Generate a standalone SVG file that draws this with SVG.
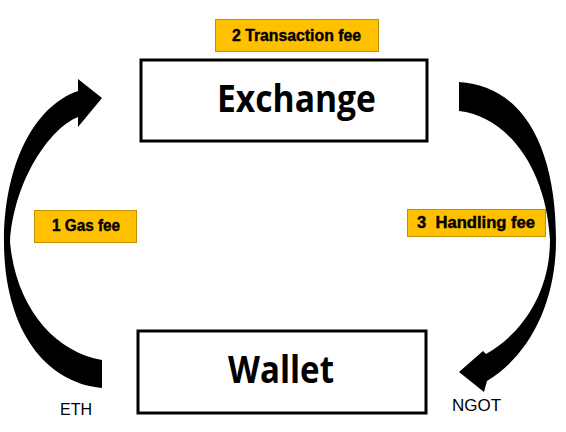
<svg xmlns="http://www.w3.org/2000/svg" width="566" height="432" viewBox="0 0 566 432">
<style>
.box{fill:#fff;stroke:#000;stroke-width:3}
.node{font-family:"Open Sans","Liberation Sans",sans-serif;font-weight:bold;font-size:37px;fill:#000}
.tag{fill:#FFC000;stroke:#BF9000;stroke-width:1}
.tagt{font-family:"Liberation Sans",Arial,sans-serif;font-weight:bold;font-size:16px;fill:#000;stroke:#000;stroke-width:0.4;white-space:pre}
.lbl{font-family:"Liberation Sans",Arial,sans-serif;font-size:16px;fill:#000}
.arr{fill:#000}
</style>
<rect width="566" height="432" fill="#fff"/>
<g id="connectors">
<path class="arr" d="M102,388 C40,382 4,322 4,242 C4,165 34,106 78,91 L78,79 L102,98 L78,127 L78,117 C50,128 14,180 10,242 C16,308 55,352 102,360 Z"/>
<path class="arr" d="M459,82 C525,86 556,150 556,240 C556,302 530,355 487,381 L484,392 L459,372 L483,351 L486,354 C520,335 550,295 550,240 C546,165 505,116 459,111 Z"/>
</g>
<g id="exchange">
<rect class="box" x="141" y="60" width="286" height="81"/>
<text class="node" x="217" y="112" textLength="159" lengthAdjust="spacingAndGlyphs">Exchange</text>
</g>
<g id="wallet">
<rect class="box" x="138" y="331" width="288" height="82"/>
<text class="node" x="228" y="383" textLength="106" lengthAdjust="spacingAndGlyphs">Wallet</text>
</g>
<g id="label-transaction">
<rect class="tag" x="215.5" y="19.5" width="163" height="32"/>
<text class="tagt" x="232" y="41" textLength="129" lengthAdjust="spacingAndGlyphs">2 Transaction fee</text>
</g>
<g id="label-gas">
<rect class="tag" x="34.5" y="210.5" width="102" height="32"/>
<text class="tagt" x="52" y="231" textLength="68" lengthAdjust="spacingAndGlyphs">1 Gas fee</text>
</g>
<g id="label-handling">
<rect class="tag" x="407.5" y="209.5" width="138" height="27"/>
<text class="tagt" x="417" y="228" textLength="118" lengthAdjust="spacingAndGlyphs">3  Handling fee</text>
</g>
<g id="label-eth">
<text class="lbl" x="60" y="415">ETH</text>
</g>
<g id="label-ngot">
<text class="lbl" x="452" y="411" style="font-size:17px">NGOT</text>
</g>
</svg>
